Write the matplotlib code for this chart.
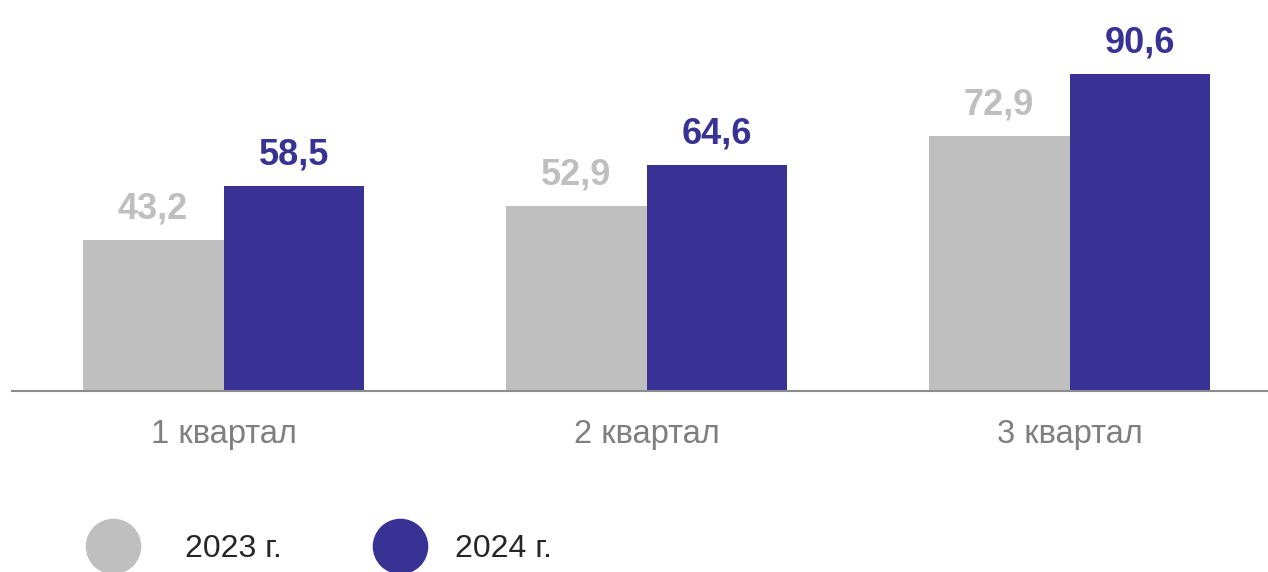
import numpy as np
import matplotlib.pyplot as plt
from matplotlib.lines import Line2D

plt.rcParams['font.family'] = ['Liberation Sans', 'DejaVu Sans']

kvartaly = ['1 квартал', '2 квартал', '3 квартал']
serii = ['2023 г.', '2024 г.']
znach_2023 = [43.2, 52.9, 72.9]
znach_2024 = [58.5, 64.6, 90.6]

cvet_seryj = '#bfbfbf'
cvet_sinij = '#373294'

fig = plt.figure(figsize=(12.68, 5.72), dpi=100)
ax = fig.add_axes([12 / 1268, 181 / 572, 1256 / 1268, 391 / 572])

x = np.arange(len(kvartaly))
w = 0.333

b1 = ax.bar(x - w / 2, znach_2023, w, color=cvet_seryj)
b2 = ax.bar(x + w / 2, znach_2024, w, color=cvet_sinij)

for bars, cvet in [(b1, cvet_seryj), (b2, cvet_sinij)]:
    for bar in bars:
        h = bar.get_height()
        ax.annotate(f'{h:.1f}'.replace('.', ','),
                    (bar.get_x() + bar.get_width() / 2, h),
                    xytext=(0, 9.5), textcoords='offset points',
                    ha='center', va='bottom', fontsize=26,
                    fontweight='bold', color=cvet)

ax.set_xlim(-0.5, 2.469)
ax.set_ylim(0, 111.6)
ax.set_xticks(x)
ax.set_xticklabels(kvartaly)
ax.tick_params(axis='x', length=0, pad=20, labelsize=23.5, labelcolor='#7f7f7f')
ax.set_yticks([])
for s in ['top', 'right', 'left']:
    ax.spines[s].set_visible(False)
ax.spines['bottom'].set_color('#8c8c8c')
ax.spines['bottom'].set_linewidth(1.5)

# две отдельные легенды: отступ текста у второй меньше
for cvet, nazv, x0, otstup in [(cvet_seryj, serii[0], 68, 1.25),
                               (cvet_sinij, serii[1], 355, 0.72)]:
    ruchka = Line2D([], [], marker='o', linestyle='none', markersize=39,
                    markerfacecolor=cvet, markeredgecolor=cvet)
    fig.legend([ruchka], [nazv], loc='center left',
               bbox_to_anchor=(x0 / 1268, 23 / 572), frameon=False,
               fontsize=23, handletextpad=otstup, labelcolor='#262626',
               borderaxespad=0)

fig.savefig('out.png', dpi=100)
